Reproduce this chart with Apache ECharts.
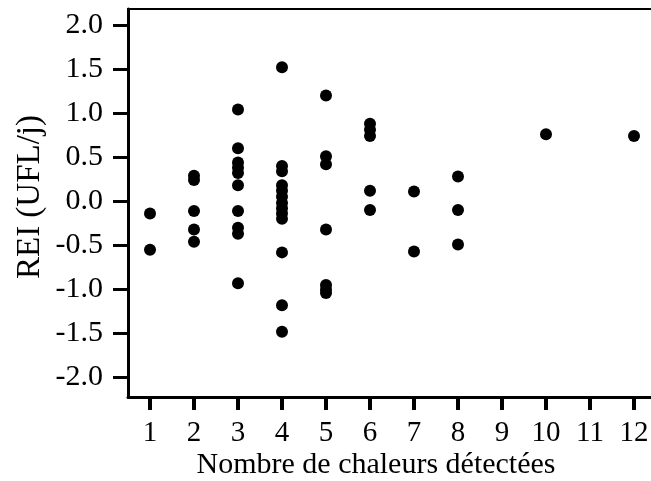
<!DOCTYPE html>
<html>
<head>
<meta charset="utf-8">
<script src="https://cdn.jsdelivr.net/npm/echarts@6/dist/echarts.min.js"></script>
<style>
  html, body { margin: 0; padding: 0; background: #fff; }
  #chart { width: 651px; height: 481px; }
</style>
</head>
<body>
<div id="chart"></div>
<script>
// Number of detected heats (x) and REI values in UFL/day (y), one array per count
const rei_1 = [-0.14, -0.55];
const rei_2 = [0.29, 0.24, -0.11, -0.32, -0.46];
const rei_3 = [1.04, 0.60, 0.44, 0.38, 0.32, 0.18, -0.11, -0.30, -0.37, -0.93];
const rei_4 = [1.52, 0.40, 0.34, 0.18, 0.12, 0.05, -0.02, -0.08, -0.14, -0.20, -0.58, -1.18, -1.48];
const rei_5 = [1.20, 0.51, 0.42, -0.32, -0.95, -1.00, -1.04];
const rei_6 = [0.88, 0.81, 0.74, 0.12, -0.10];
const rei_7 = [0.11, -0.57];
const rei_8 = [0.28, -0.10, -0.49];
const rei_10 = [0.76];
const rei_12 = [0.74];

const counts = [1, 2, 3, 4, 5, 6, 7, 8, 10, 12];
const reiColumns = [rei_1, rei_2, rei_3, rei_4, rei_5, rei_6, rei_7, rei_8, rei_10, rei_12];

const xTicks = [1, 2, 3, 4, 5, 6, 7, 8, 9, 10, 11, 12];
const yTicks = [-2.0, -1.5, -1.0, -0.5, 0.0, 0.5, 1.0, 1.5, 2.0];

const xTitle = 'Nombre de chaleurs détectées';
const yTitle = 'REI (UFL/j)';

const points = [];
counts.forEach((c, i) => reiColumns[i].forEach(v => points.push([c, v])));

const serif = '"Liberation Serif", "Times New Roman", serif';

const chart = echarts.init(document.getElementById('chart'), null, { renderer: 'canvas' });
chart.setOption({
  animation: false,
  backgroundColor: '#fff',
  // plot frame runs a little past the right edge, so only top/left/bottom show
  grid: {
    left: 128, top: 9, width: 528, height: 388,
    outerBoundsMode: 'none', containLabel: false,
    show: true, borderColor: '#000', borderWidth: 2, backgroundColor: 'transparent'
  },
  graphic: [
    {
      type: 'text', x: 376, y: 465,
      style: { text: xTitle, font: '30px ' + serif, fill: '#000', align: 'center', verticalAlign: 'middle' }
    },
    {
      type: 'text', x: 30, y: 197, rotation: Math.PI / 2,
      style: { text: yTitle, font: '33px ' + serif, fill: '#000', align: 'center', verticalAlign: 'middle' }
    }
  ],
  xAxis: {
    type: 'value', min: 0.5, max: 12.5,
    axisLine: { show: true, onZero: false, lineStyle: { color: '#000', width: 3 } },
    axisTick: { show: true, customValues: xTicks, length: 13, lineStyle: { color: '#000', width: 4 } },
    axisLabel: { customValues: xTicks, margin: 22, fontFamily: serif, fontSize: 29, color: '#000' },
    splitLine: { show: false }
  },
  yAxis: {
    type: 'value', min: -2.22, max: 2.18,
    axisLine: { show: true, onZero: false, lineStyle: { color: '#000', width: 3 } },
    axisTick: { show: true, customValues: yTicks, length: 15, lineStyle: { color: '#000', width: 3 } },
    axisLabel: {
      customValues: yTicks, margin: 25, fontFamily: serif, fontSize: 30, color: '#000',
      formatter: v => v.toFixed(1)
    },
    splitLine: { show: false }
  },
  series: [{
    type: 'scatter',
    data: points,
    symbol: 'circle',
    symbolSize: 12,
    itemStyle: { color: '#000', opacity: 1 }
  }]
});
</script>
</body>
</html>
